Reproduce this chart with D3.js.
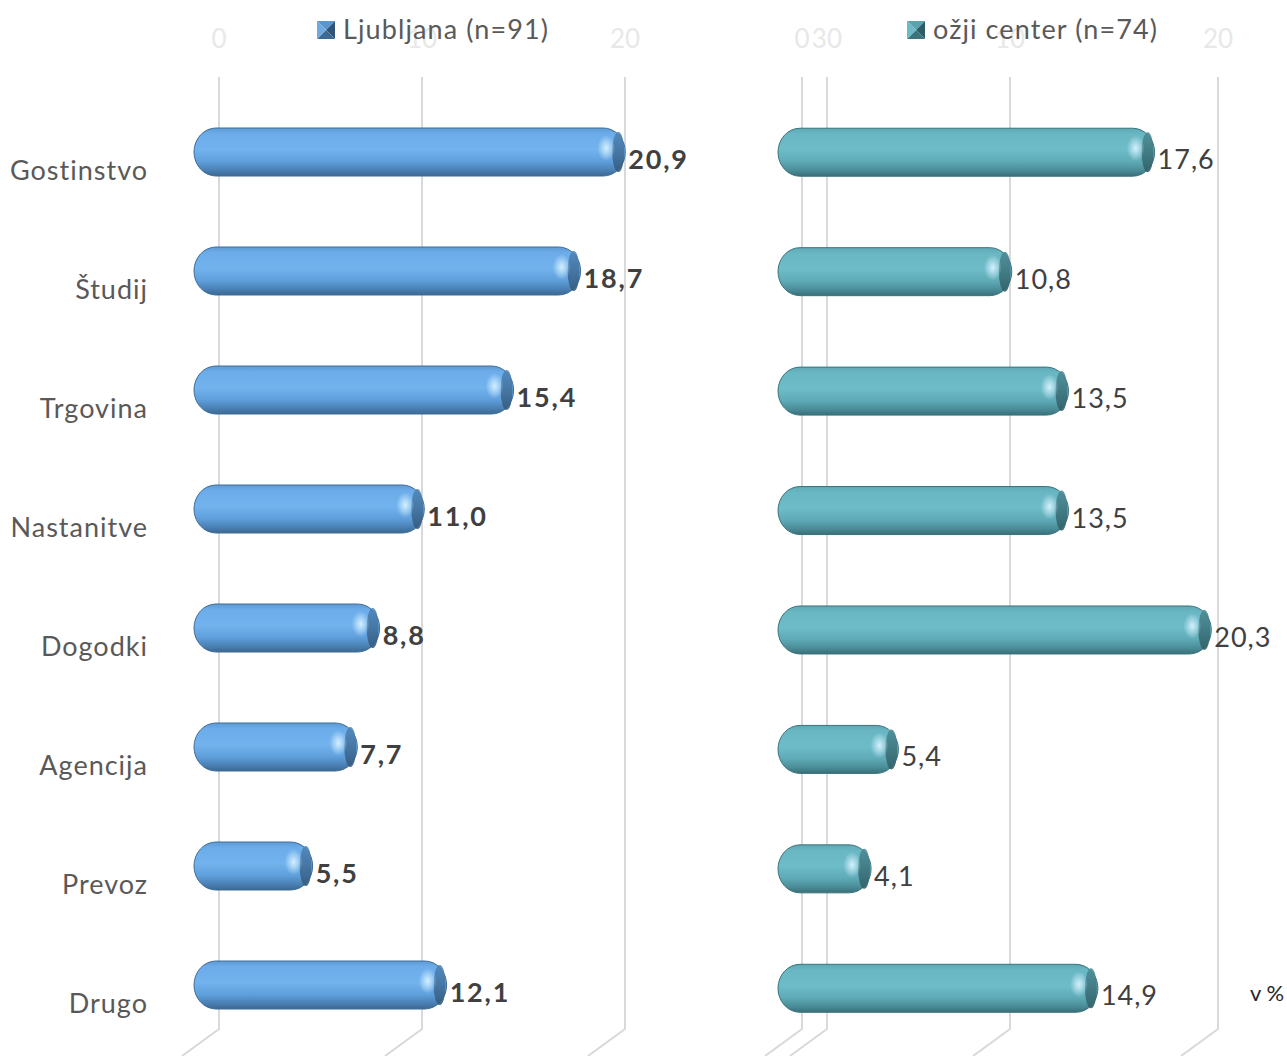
<!DOCTYPE html>
<html><head><meta charset="utf-8">
<script src="https://cdn.jsdelivr.net/npm/d3@7"></script>
<style>body{margin:0;background:#fff}svg{display:block}text{font-family:Lato,"Open Sans",sans-serif}</style>
</head><body>
<svg id="c" width="1287" height="1056"></svg>
<script>
const categories = ["Gostinstvo","Študij","Trgovina","Nastanitve","Dogodki","Agencija","Prevoz","Drugo"];
const ljubljana = [20.9,18.7,15.4,11.0,8.8,7.7,5.5,12.1];
const center = [17.6,10.8,13.5,13.5,20.3,5.4,4.1,14.9];
const seriesNames = ["Ljubljana (n=91)","ožji center (n=74)"];
const tickValues = [0,10,20];
const rightGhostTicks = [{v:1.2,label:"30"}];
const unitLabel = "v %";

const svg = d3.select("#c");
const defs = svg.append("defs");

function fmt(v){return v.toFixed(1).replace(".",",");}

function makeGrad(id, stops){
  const g = defs.append("linearGradient").attr("id",id).attr("x1",0).attr("y1",0).attr("x2",0).attr("y2",1);
  stops.forEach(s=>g.append("stop").attr("offset",s[0]).attr("stop-color",s[1]));
}
makeGrad("gBlue",[[0,"#5e9bd4"],[0.12,"#6cacea"],[0.45,"#72b3ee"],[0.7,"#5f9fdb"],[0.88,"#4a80b4"],[1,"#3b6890"]]);
makeGrad("gBlueCap",[[0,"#4f86ba"],[0.5,"#41709c"],[1,"#34597c"]]);
makeGrad("gTeal",[[0,"#5ea8b4"],[0.12,"#69b7c3"],[0.45,"#6dbcc8"],[0.7,"#5eaab6"],[0.88,"#4a8c97"],[1,"#386f78"]]);
makeGrad("gTealCap",[[0,"#4d8d97"],[0.5,"#3d747d"],[1,"#315f66"]]);
const hl = defs.append("radialGradient").attr("id","gHl");
hl.append("stop").attr("offset",0).attr("stop-color","#d8f2ff").attr("stop-opacity",0.95);
hl.append("stop").attr("offset",1).attr("stop-color","#d8f2ff").attr("stop-opacity",0);

function panel(opts){
  const {values, gridX, barX, y, grad, cap, bold, ghost} = opts;
  const g = svg.append("g");
  const ticks = tickValues.map(v=>({x:gridX(v),label:String(v)}));
  (ghost||[]).forEach(t=>ticks.push({x:gridX(t.v),label:t.label}));
  g.selectAll("path.grid").data(ticks).join("path")
    .attr("d",d=>`M${d.x},77 V1029 L${d.x-37},1056`)
    .attr("fill","none").attr("stroke","#d9d9d9").attr("stroke-width",2);
  g.selectAll("text.tick").data(ticks).join("text")
    .attr("x",d=>d.x).attr("y",48).attr("text-anchor","middle")
    .attr("font-size",26).attr("fill","#e8e8e8").text(d=>d.label);
  const bh = 48;
  const rows = g.selectAll("g.row").data(values).join("g")
    .attr("transform",(d,i)=>`translate(0,${y(categories[i]) + y.bandwidth()/2})`);
  rows.append("rect")
    .attr("x",barX(0)-5).attr("y",-bh/2)
    .attr("width",d=>barX(d)-barX(0)+7).attr("height",bh)
    .attr("rx",22).attr("ry",24)
    .attr("fill",`url(#${grad})`).attr("stroke",grad==="gBlue"?"#3f6d98":"#3a737c").attr("stroke-width",1);
  rows.append("ellipse")
    .attr("cx",d=>barX(d)-5).attr("cy",0).attr("rx",6).attr("ry",bh/2-4)
    .attr("fill",`url(#${cap})`).attr("opacity",0.9);
  rows.append("ellipse")
    .attr("cx",d=>barX(d)-17).attr("cy",-4).attr("rx",9).attr("ry",13)
    .attr("fill","url(#gHl)");
  rows.append("text")
    .attr("x",d=>barX(d)+5).attr("y",17)
    .attr("font-size",27).attr("letter-spacing",bold?1.8:1).attr("font-weight",bold?"bold":"normal")
    .attr("fill","#404040").text(d=>fmt(d));
}

const yL = d3.scaleBand().domain(categories).range([92.5,1044.5]).padding(0);
const yR = d3.scaleBand().domain(categories).range([92.5,1048]).padding(0);

panel({values:ljubljana,
  gridX:d3.scaleLinear().domain([0,20]).range([219,625]),
  barX:d3.scaleLinear().domain([0,20]).range([199,605]),
  y:yL, grad:"gBlue", cap:"gBlueCap", bold:true});
panel({values:center,
  gridX:d3.scaleLinear().domain([0,20]).range([802,1218]),
  barX:d3.scaleLinear().domain([0,20]).range([783,1203]),
  y:yR, grad:"gTeal", cap:"gTealCap", bold:false, ghost:rightGhostTicks});

svg.append("g").selectAll("text").data(categories).join("text")
  .attr("x",148).attr("y",d=>yL(d)+yL.bandwidth()/2+28)
  .attr("text-anchor","end").attr("font-size",27).attr("letter-spacing",1).attr("fill","#595959").text(d=>d);

function legend(x, y, name, c1, c2, c3, c4){
  const g = svg.append("g").attr("transform",`translate(${x},${y})`);
  const s=18;
  g.append("path").attr("d",`M0,0 L${s},0 L${s/2},${s/2}Z`).attr("fill",c1);
  g.append("path").attr("d",`M${s},0 L${s},${s} L${s/2},${s/2}Z`).attr("fill",c2);
  g.append("path").attr("d",`M0,${s} L${s},${s} L${s/2},${s/2}Z`).attr("fill",c3);
  g.append("path").attr("d",`M0,0 L0,${s} L${s/2},${s/2}Z`).attr("fill",c4);
  g.append("text").attr("x",26).attr("y",18).attr("font-size",27).attr("letter-spacing",1.1).attr("fill","#595959").text(name);
}
legend(317,21,seriesNames[0],"#5b95cc","#2f5678","#3d6a94","#6fa9de");
legend(907,21,seriesNames[1],"#5ba3ae","#2d5e66","#3c737c","#6cbac5");

svg.append("text").attr("x",1250).attr("y",1001).attr("font-size",22).attr("fill","#262626").text(unitLabel);
</script>
</body></html>
